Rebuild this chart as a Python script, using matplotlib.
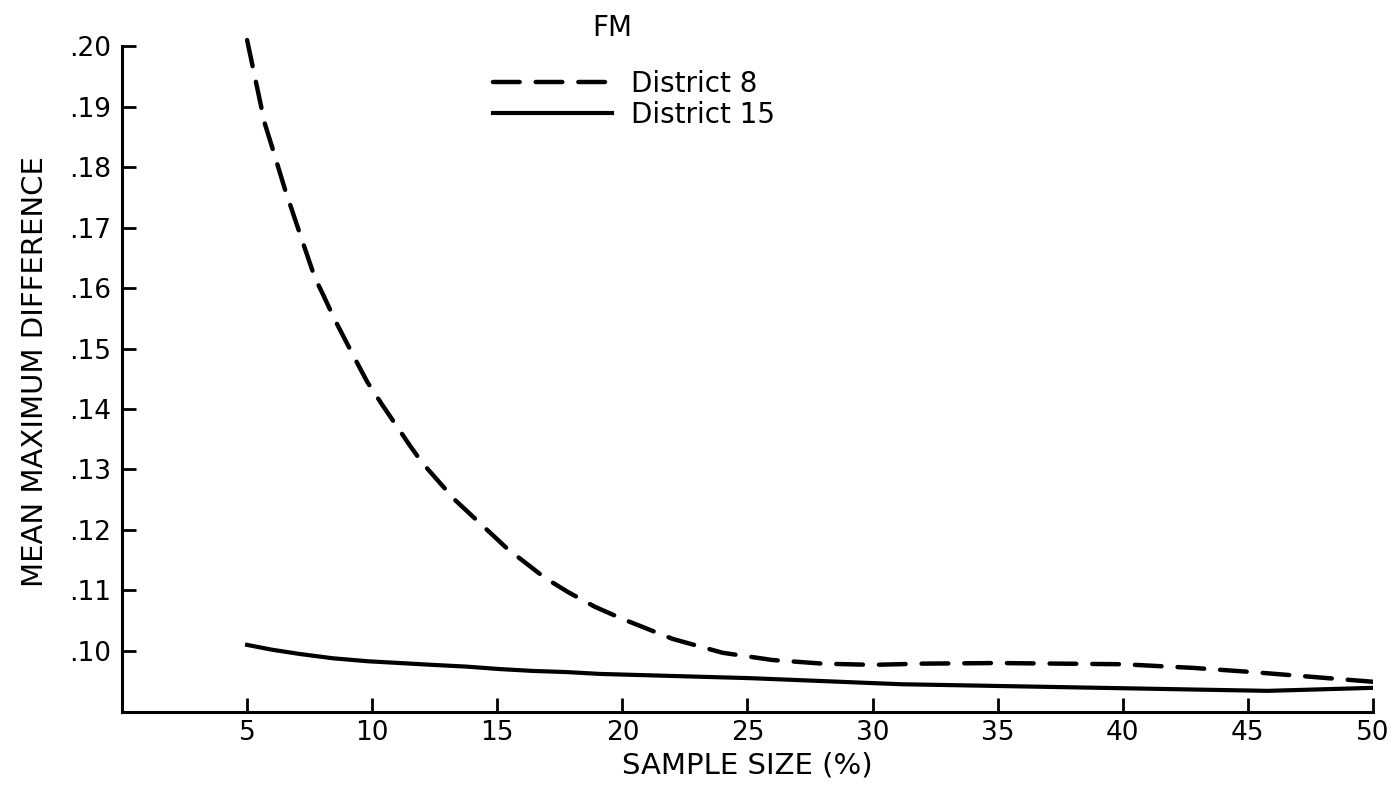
#!/usr/bin/env python3

import matplotlib.pyplot as plt
from matplotlib.ticker import FixedLocator

plt.rcParams['font.family'] = ['DejaVu Sans']
plt.rcParams['font.size'] = 20

# District 8 (dashed)
x8 = [5, 5.7, 6.0, 6.5, 7.1, 7.7, 8.05, 8.5, 9.3, 9.8, 10.4, 11.5, 12.0, 13.3,
      15.4, 16.9, 17.8, 18.9, 20, 22, 24, 26, 28, 30, 32, 35, 40, 42.8,
      45.2, 47.6, 50]
y8 = [0.2010, 0.1873, 0.1833, 0.1765, 0.1691, 0.1618, 0.1588, 0.1548,
      0.1484, 0.1445, 0.1407, 0.1340, 0.1311, 0.1250, 0.1169, 0.1121,
      0.1098, 0.1073, 0.1053, 0.1020, 0.0997, 0.0985, 0.0979, 0.0977, 0.0979,
      0.0980, 0.0978, 0.0972, 0.0965, 0.0957, 0.0949]

# District 15 (solid)
x15 = [5, 6, 7.1, 8.4, 9.8, 11.1, 12.4, 13.8, 15.1, 16.4, 17.8, 19.1, 25.1, 31.1,
       35.1, 39.1, 43.1, 45.8, 50]
y15 = [0.1010, 0.1002, 0.0995, 0.0988, 0.0983, 0.0980, 0.0977, 0.0974, 0.0970,
       0.0967, 0.0965, 0.0962, 0.0955, 0.0945, 0.0942, 0.0939, 0.0936, 0.0934,
       0.0939]

xticks = [5, 10, 15, 20, 25, 30, 35, 40, 45, 50]
yticks = [0.10, 0.11, 0.12, 0.13, 0.14, 0.15, 0.16, 0.17, 0.18, 0.19, 0.20]
ylabels = ['.10', '.11', '.12', '.13', '.14', '.15', '.16', '.17', '.18', '.19', '.20']

fig = plt.figure(figsize=(13.99, 7.9), dpi=100)
ax = fig.add_axes([0.0872, 0.0987, 0.8942, 0.8621])

ax.plot(x8, y8, color='black', lw=3.2, dashes=(6, 3.6), dash_capstyle='round',
        label='District 8')
ax.plot(x15, y15, color='black', lw=3.0, label='District 15')

ax.set_xlim(0, 50)
ax.set_ylim(0.0899, 0.2025)
ax.xaxis.set_major_locator(FixedLocator(xticks))
ax.set_xticklabels([str(t) for t in xticks])
ax.yaxis.set_major_locator(FixedLocator(yticks))
ax.set_yticklabels(ylabels)

ax.spines['top'].set_visible(False)
ax.spines['right'].set_visible(False)
ax.spines['left'].set_bounds(0.0899, 0.20)
ax.spines['left'].set_linewidth(2.2)
ax.spines['bottom'].set_linewidth(2.2)
ax.tick_params(direction='in', length=10, width=2, labelsize=19, pad=8)
ax.tick_params(axis='x', pad=6)

ax.set_xlabel('SAMPLE SIZE (%)', fontsize=21, labelpad=4)
ax.set_ylabel('MEAN MAXIMUM DIFFERENCE', fontsize=21, labelpad=14)

ax.legend(loc='upper left', bbox_to_anchor=(0.2966, 0.9427), frameon=False,
          fontsize=20, handlelength=4.3, handletextpad=0.65, labelspacing=0.1,
          borderpad=0, borderaxespad=0)
fig.text(612 / 1399, 1 - 28 / 790, 'FM', ha='center', va='center', fontsize=20)

fig.savefig('out.png', dpi=100)
